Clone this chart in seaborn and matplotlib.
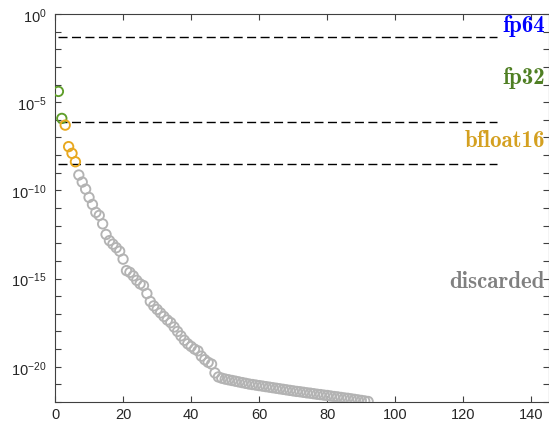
import matplotlib as mpl
mpl.use('Agg')
import matplotlib.pyplot as plt
import matplotlib.ticker as mticker
import seaborn as sns
import numpy as np
import pandas as pd

# log10 of the singular values (index 1..92)
log_sv = [-4.39, -5.92, -6.30, -7.52, -7.90, -8.38, -9.13, -9.53, -9.93, -10.40,
          -10.80, -11.25, -11.42, -11.90, -12.50, -12.85, -13.05, -13.25, -13.45, -13.90,
          -14.55, -14.65, -14.85, -15.10, -15.30, -15.40, -15.85, -16.30, -16.55, -16.75,
          -16.95, -17.15, -17.35, -17.50, -17.75, -18.00, -18.25, -18.50, -18.70, -18.85,
          -19.00, -19.10, -19.40, -19.60, -19.75, -19.85, -20.35, -20.58, -20.65, -20.70,
          -20.74, -20.78, -20.82, -20.86, -20.90, -20.94, -20.98, -21.01, -21.04, -21.07,
          -21.10, -21.13, -21.16, -21.19, -21.22, -21.25, -21.28, -21.31, -21.34, -21.37,
          -21.40, -21.42, -21.45, -21.48, -21.50, -21.53, -21.56, -21.58, -21.61, -21.63,
          -21.66, -21.69, -21.71, -21.74, -21.77, -21.79, -21.82, -21.85, -21.88, -21.91,
          -21.94, -21.97]
# precision kept for each value
groups = ['fp32'] * 2 + ['bfloat16'] * 4 + ['discarded'] * 86

# threshold lines (dashed)
thresholds = [10**-1.29, 10**-6.13, 10**-8.51]
threshold_x = [1, 130]

labels = ['fp64', 'fp32', 'bfloat16', 'discarded']
label_y = [10**-0.95, 10**-3.93, 10**-7.5, 10**-15.5]
label_colors = ['#0000ff', '#4f7f23', '#d4a020', '#808080']
point_colors = {'fp32': '#5f9e2a', 'bfloat16': '#e8a81f', 'discarded': '#b3b3b3'}

df = pd.DataFrame({'index': np.arange(1, len(log_sv) + 1),
                   'sv': 10.0 ** np.array(log_sv),
                   'group': groups})

sns.set_style('white')
plt.rcParams['font.family'] = ['Liberation Sans', 'DejaVu Sans']
plt.rcParams['mathtext.default'] = 'regular'

fig = plt.figure(figsize=(5.49, 4.31), dpi=100)
ax = fig.add_axes([55 / 549, 1 - 403 / 431, 493.5 / 549, 388 / 431])

for th in thresholds:
    ax.plot(threshold_x, [th, th], color='black', lw=1.0, dashes=(6.5, 3.2))

for g in ['fp32', 'bfloat16', 'discarded']:
    sub = df[df['group'] == g]
    sns.scatterplot(data=sub, x='index', y='sv', ax=ax, marker='o', s=46,
                    facecolors='none', edgecolor=point_colors[g], linewidth=1.35,
                    legend=False, zorder=3)

for lab, y, c in zip(labels, label_y, label_colors):
    ax.text(144.0, y, lab, color=c, ha='right', va='baseline',
            fontsize=16.5, fontfamily='cmb10')

ax.set_yscale('log')
ax.set_xlim(0, 145)
ax.set_ylim(1e-22, 1)
ax.set_xticks([0, 20, 40, 60, 80, 100, 120, 140])
ax.yaxis.set_major_locator(mticker.FixedLocator([1e-20, 1e-15, 1e-10, 1e-5, 1]))
ax.yaxis.set_minor_locator(mticker.FixedLocator([10.0 ** -k for k in range(0, 23)]))
ax.yaxis.set_minor_formatter(mticker.NullFormatter())
ax.yaxis.set_major_formatter(mticker.FuncFormatter(
    lambda v, p: r'$10^{%d}$' % int(round(np.log10(v)))))
ax.set_xlabel('')
ax.set_ylabel('')
ax.tick_params(which='both', direction='in', top=True, right=True,
               bottom=True, left=True,
               length=4, width=0.8, color='#404040', labelsize=10.5,
               labelcolor='#262626')
ax.tick_params(axis='y', pad=6)
for sp in ax.spines.values():
    sp.set_color('#404040')
    sp.set_linewidth(0.8)

fig.savefig('out.png', dpi=100)
